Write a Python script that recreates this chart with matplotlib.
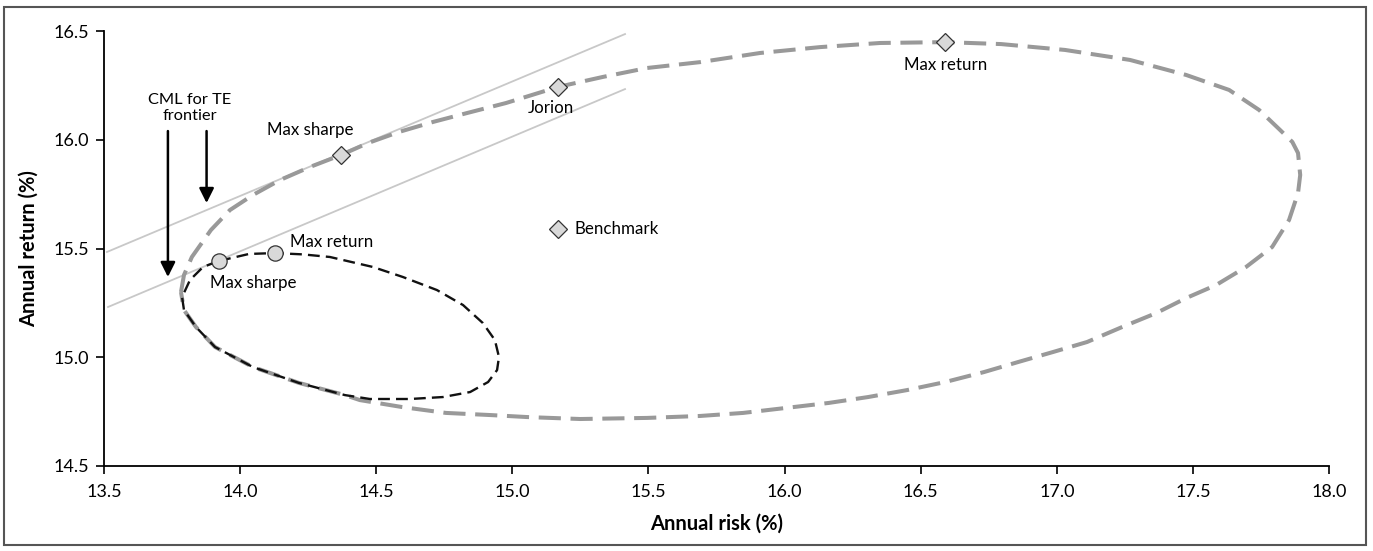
import matplotlib
matplotlib.use("Agg")
import matplotlib.pyplot as plt
from matplotlib.patches import Rectangle

plt.rcParams['font.family'] = ['Lato', 'DejaVu Sans']

# tracking-error frontier (large, grey)
te_risk = [13.783, 13.794, 13.823, 13.893, 13.963, 14.047, 14.147, 14.257, 14.371,
           14.470, 14.584, 14.709, 14.834, 14.977, 15.168, 15.333, 15.495, 15.690,
           15.910, 16.130, 16.351, 16.590, 16.795, 17.030, 17.269, 17.475, 17.633,
           17.743, 17.820, 17.865, 17.886, 17.894, 17.886, 17.853, 17.791, 17.695,
           17.585, 17.475, 17.365, 17.240, 17.111, 16.986, 16.858, 16.733, 16.590,
           16.450, 16.307, 16.163, 16.006, 15.848, 15.690, 15.495, 15.249, 15.054,
           14.922, 14.756, 14.595, 14.440, 14.385, 14.216, 14.047, 13.908, 13.838,
           13.794, 13.783]
te_ret = [15.300, 15.378, 15.461, 15.585, 15.677, 15.746, 15.815, 15.875, 15.930,
          15.985, 16.036, 16.082, 16.123, 16.169, 16.243, 16.289, 16.330, 16.357,
          16.399, 16.426, 16.445, 16.449, 16.440, 16.413, 16.367, 16.298, 16.229,
          16.137, 16.045, 15.990, 15.939, 15.838, 15.755, 15.631, 15.507, 15.415,
          15.332, 15.272, 15.203, 15.139, 15.070, 15.024, 14.978, 14.932, 14.886,
          14.849, 14.817, 14.790, 14.767, 14.744, 14.730, 14.721, 14.716, 14.725,
          14.734, 14.744, 14.771, 14.803, 14.826, 14.882, 14.955, 15.047, 15.139,
          15.217, 15.300]

# small frontier (black)
sm_risk = [13.923, 14.033, 14.128, 14.230, 14.330, 14.488, 14.598, 14.723, 14.819,
           14.892, 14.936, 14.951, 14.944, 14.911, 14.845, 14.745, 14.624, 14.477,
           14.385, 14.216, 14.047, 13.908, 13.838, 13.794, 13.787, 13.816, 13.864,
           13.923]
sm_ret = [15.443, 15.475, 15.479, 15.473, 15.461, 15.415, 15.369, 15.309, 15.240,
          15.157, 15.079, 15.001, 14.941, 14.886, 14.840, 14.817, 14.808, 14.808,
          14.826, 14.882, 14.955, 15.047, 15.139, 15.217, 15.277, 15.355, 15.415,
          15.443]

# capital market lines
cml_up_x = [13.511, 15.414]
cml_up_y = [15.484, 16.486]
cml_lo_x = [13.515, 15.414]
cml_lo_y = [15.231, 16.233]

# diamonds: Max sharpe, Jorion, Max return, Benchmark
dia_x = [14.371, 15.168, 16.590, 15.168]
dia_y = [15.930, 16.243, 16.449, 15.590]
# circles: Max sharpe, Max return
circ_x = [13.923, 14.128]
circ_y = [15.443, 15.479]

fig = plt.figure(figsize=(13.73, 5.51), dpi=100)
ax = fig.add_axes([0.0757, 0.1543, 0.8923, 0.7894])

ax.plot(cml_up_x, cml_up_y, color='#c8c8c8', lw=1.3, zorder=1)
ax.plot(cml_lo_x, cml_lo_y, color='#c8c8c8', lw=1.3, zorder=1)

ax.plot(te_risk, te_ret, color='#999999', lw=2.9, dashes=(5.5, 2.4), zorder=2)
ax.plot(sm_risk, sm_ret, color='#111111', lw=1.7, dashes=(5.0, 2.6), zorder=3)

ax.plot(dia_x, dia_y, ls='none', marker='D', ms=9, mfc='#d9d9d9', mec='#333333',
        mew=0.9, zorder=5)
ax.plot(circ_x, circ_y, ls='none', marker='o', ms=11, mfc='#d9d9d9', mec='#333333',
        mew=0.9, zorder=5)

fs = 12.2
ax.text(16.59, 16.344, 'Max return', ha='center', va='center', fontsize=fs)
ax.text(15.14, 16.146, 'Jorion', ha='center', va='center', fontsize=fs)
ax.text(14.257, 16.045, 'Max sharpe', ha='center', va='center', fontsize=fs)
ax.text(15.227, 15.59, 'Benchmark', ha='left', va='center', fontsize=fs)
ax.text(14.183, 15.530, 'Max return', ha='left', va='center', fontsize=fs)
ax.text(13.889, 15.341, 'Max sharpe', ha='left', va='center', fontsize=fs)
ax.text(13.816, 16.146, 'CML for TE\nfrontier', ha='center', va='center',
        fontsize=11.8, linespacing=1.15)

arrow = dict(arrowstyle='-|>', color='black', lw=1.8, mutation_scale=22,
             shrinkA=0, shrinkB=0)
ax.annotate('', xy=(13.735, 15.369), xytext=(13.735, 16.04), arrowprops=arrow)
ax.annotate('', xy=(13.877, 15.709), xytext=(13.877, 16.04), arrowprops=arrow)

ax.set_xlim(13.5, 18.0)
ax.set_ylim(14.5, 16.5)
ax.set_xticks([13.5, 14.0, 14.5, 15.0, 15.5, 16.0, 16.5, 17.0, 17.5, 18.0])
ax.set_yticks([14.5, 15.0, 15.5, 16.0, 16.5])
ax.xaxis.set_major_formatter(matplotlib.ticker.FormatStrFormatter('%.1f'))
ax.yaxis.set_major_formatter(matplotlib.ticker.FormatStrFormatter('%.1f'))
ax.tick_params(direction='out', length=6, width=1.2, labelsize=13,
               colors='black', pad=5)
ax.xaxis.set_tick_params(pad=7)
for s in ['top', 'right']:
    ax.spines[s].set_visible(False)
for s in ['left', 'bottom']:
    ax.spines[s].set_linewidth(1.3)

ax.set_xlabel('Annual risk (%)', fontsize=14.5, fontweight='bold', labelpad=10)
ax.set_ylabel('Annual return (%)', fontsize=14.5, fontweight='bold', labelpad=10)

fig.patches.append(Rectangle((0.003, 0.01), 0.992, 0.978, transform=fig.transFigure,
                             fill=False, edgecolor='#555555', lw=1.5))

fig.savefig('out.png', dpi=100)
